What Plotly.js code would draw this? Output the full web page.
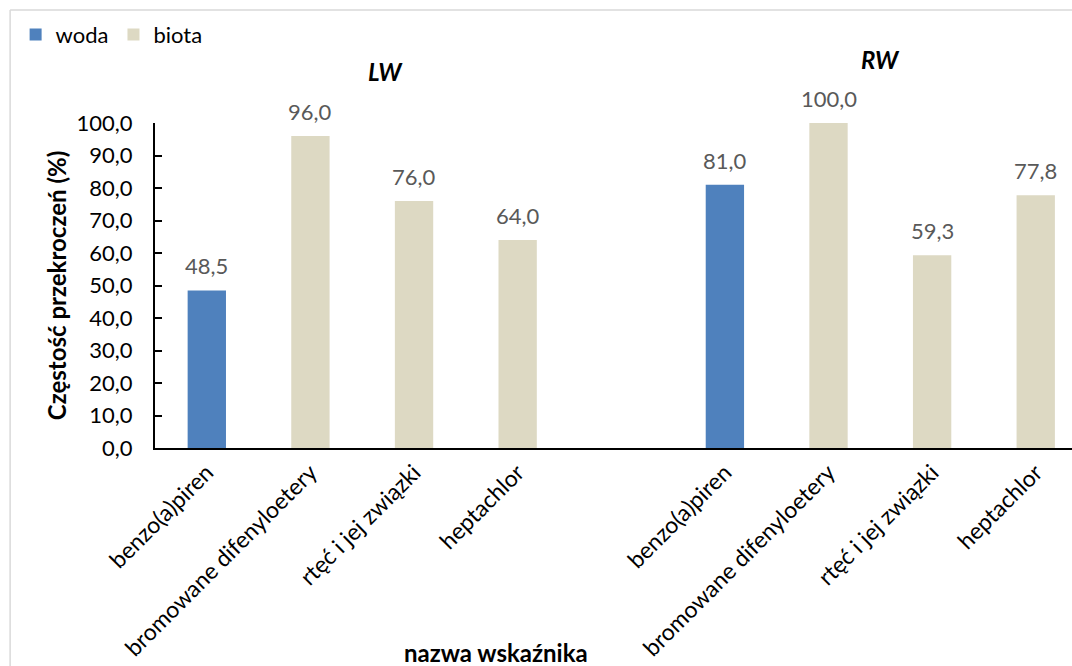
<!DOCTYPE html>
<html>
<head>
<meta charset="utf-8">
<script src="https://cdn.plot.ly/plotly-3.0.1.min.js"></script>
<style>html,body{margin:0;padding:0;background:#fff;}#chart{width:1072px;height:666px;}</style>
</head>
<body>
<div id="chart"></div>
<script>
// Data
const groups = ["LW", "RW"];
const categories = ["benzo(a)piren", "bromowane difenyloetery", "rtęć i jej związki", "heptachlor"];
const seriesByCategory = ["woda", "biota", "biota", "biota"];
const valuesLW = [48.5, 96.0, 76.0, 64.0];
const valuesRW = [81.0, 100.0, 59.3, 77.8];
const yTickVals = [0, 10, 20, 30, 40, 50, 60, 70, 80, 90, 100];

const colors = { woda: "#4F81BD", biota: "#DDD9C3" };
const FONT = "Lato, 'Open Sans', sans-serif";
const fmt = v => v.toFixed(1).replace(".", ",");

// Slot positions: group 0 -> 0..3, gap slot 4, group 1 -> 5..8
const allValues = [valuesLW, valuesRW];
const traces = {};
["woda", "biota"].forEach(s => {
  traces[s] = { type: "bar", name: s, x: [], y: [], marker: { color: colors[s] } };
});
const tickvals = [], ticktext = [], labelAnns = [];
allValues.forEach((vals, g) => {
  vals.forEach((v, i) => {
    const pos = g * (categories.length + 1) + i;
    const t = traces[seriesByCategory[i]];
    t.x.push(pos); t.y.push(v);
    tickvals.push(pos); ticktext.push(categories[i]);
    labelAnns.push({
      text: fmt(v), x: pos, y: v, xref: "x", yref: "y",
      xanchor: "center", yanchor: "bottom", yshift: 9, showarrow: false,
      font: { family: FONT, size: 22, color: "#595959" }
    });
  });
});

const data = ["woda", "biota"].map(s => Object.assign(traces[s], {
  width: 0.37,
  hoverinfo: "none"
}));

const layout = {
  width: 1072, height: 666,
  margin: { l: 155, r: 0, t: 123, b: 218, autoexpand: false },
  paper_bgcolor: "#fff", plot_bgcolor: "#fff",
  font: { family: FONT, size: 22, color: "#000" },
  barmode: "overlay",
  showlegend: true,
  legend: {
    orientation: "h", x: -0.152, y: 1.272, xanchor: "left", yanchor: "middle",
    font: { family: FONT, size: 22, color: "#000" },
    itemwidth: 30, tracegroupgap: 0, traceorder: "normal"
  },
  xaxis: {
    range: [-0.5, 8.35],
    tickmode: "array", tickvals: tickvals, ticktext: ticktext,
    tickangle: -45, ticks: "",
    showline: true, linecolor: "#000", linewidth: 2,
    showgrid: false, zeroline: false,
    tickfont: { family: FONT, size: 23, color: "#000" }
  },
  yaxis: {
    range: [0, 100],
    tickmode: "array", tickvals: yTickVals,
    ticktext: yTickVals.map(fmt),
    ticks: "inside", ticklen: 7, tickwidth: 2, tickcolor: "#000",
    ticklabelstandoff: 16,
    showline: true, linecolor: "#000", linewidth: 2,
    showgrid: false, zeroline: false,
    tickfont: { family: FONT, size: 22, color: "#000" },
    title: { text: "Częstość przekroczeń (%)", font: { family: FONT, size: 24, color: "#000", weight: "bold" }, standoff: 3 }
  },
  annotations: labelAnns.concat([
    { text: "<b><i>" + groups[0] + "</i></b>", x: 1.72, y: 1.157, xref: "x", yref: "paper", yanchor: "middle", showarrow: false,
      font: { family: FONT, size: 24, color: "#000" } },
    { text: "<b><i>" + groups[1] + "</i></b>", x: 6.5, y: 1.194, xref: "x", yref: "paper", yanchor: "middle", showarrow: false,
      font: { family: FONT, size: 24, color: "#000" } },
    { text: "<b>nazwa wskaźnika</b>", x: 2.79, y: -0.628, xref: "x", yref: "paper", yanchor: "middle", showarrow: false,
      font: { family: FONT, size: 24, color: "#000" } }
  ]),
  shapes: [
    { type: "line", xref: "paper", yref: "paper", x0: -0.158, x1: 1.1, y0: 1.348, y1: 1.348,
      line: { color: "#D9D9D9", width: 1.5 } },
    { type: "line", xref: "paper", yref: "paper", x0: -0.158, x1: -0.158, y0: 1.348, y1: -0.8,
      line: { color: "#D9D9D9", width: 1.5 } }
  ]
};

Plotly.newPlot("chart", data, layout, { displayModeBar: false, staticPlot: true });
</script>
</body>
</html>
